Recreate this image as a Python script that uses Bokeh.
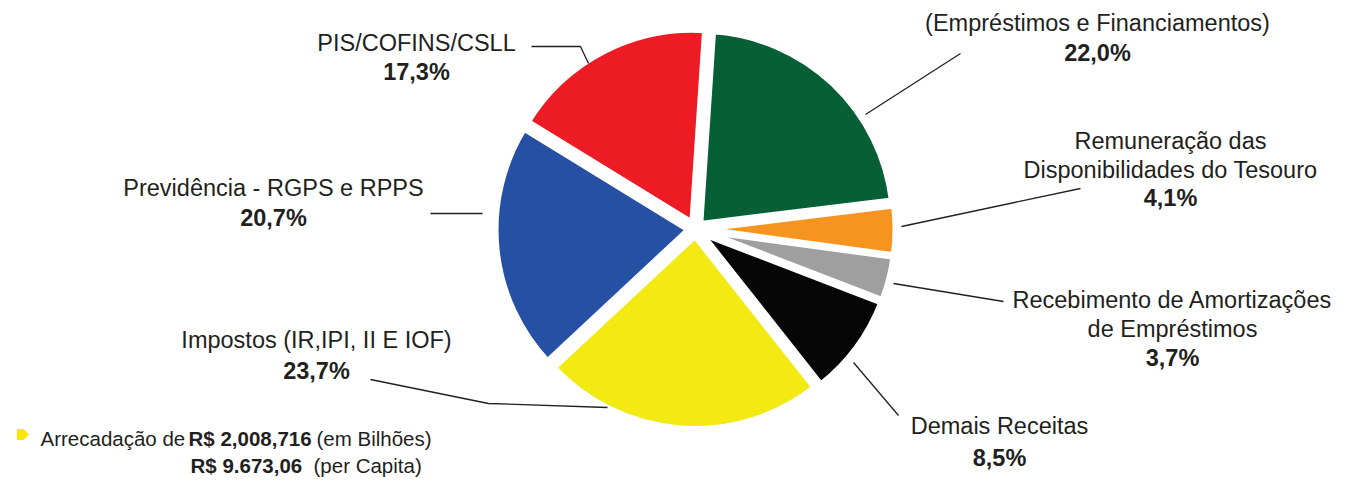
import numpy as np
from bokeh.plotting import figure
from bokeh.models import Range1d, ColumnDataSource
from bokeh.core.properties import value
from bokeh.embed import file_html
from bokeh.resources import INLINE

# ---------------- data ----------------
categories = [
    "Operações de Crédito (Empréstimos e Financiamentos)",
    "PIS/COFINS/CSLL",
    "Previdência - RGPS e RPPS",
    "Impostos (IR,IPI, II E IOF)",
    "Demais Receitas",
    "Recebimento de Amortizações de Empréstimos",
    "Remuneração das Disponibilidades do Tesouro",
]
shares = [22.0, 17.3, 20.7, 23.7, 8.5, 3.7, 4.1]
pct_labels = ["22,0%", "17,3%", "20,7%", "23,7%", "8,5%", "3,7%", "4,1%"]
label_lines = [
    ["(Empréstimos e Financiamentos)"],
    ["PIS/COFINS/CSLL"],
    ["Previdência - RGPS e RPPS"],
    ["Impostos (IR,IPI, II E IOF)"],
    ["Demais Receitas"],
    ["Recebimento de Amortizações", "de Empréstimos"],
    ["Remuneração das", "Disponibilidades do Tesouro"],
]
colors = ["#075f35", "#ed1c24", "#2550a3", "#f2ea12", "#060606", "#9f9f9f", "#f6941f"]

total_prefix = "Arrecadação de "
total_value = "R$ 2,008,716"
total_unit = "(em Bilhões)"
percap_value = "R$ 9.673,06"
percap_unit = "(per Capita)"

# ---------------- layout (page pixel coordinates) ----------------
W, H = 1351, 483
CX, CY, R = 695, 228.5, 193
EXPLODE = 7
START_DEG = 7

label_x = [1097, 416, 273, 316, 999, 1172, 1170]
label_y = [22, 42, 187, 339, 425, 299, 140]      # first label line (cap centre)
pct_y = [52, 71, 217, 370, 457, 357, 197]
LINE_GAP = 29.5

leaders = [
    [(865, 114), (960, 53)],
    [(531, 46), (580, 46), (588, 63)],
    [(430, 213), (482, 213)],
    [(370, 379), (488, 403), (607, 407)],
    [(853, 362), (898, 415)],
    [(893, 283), (1003, 301)],
    [(901, 226), (1080, 188)],
]

TEXT_COLOR = "#231f20"
FONT = "Liberation Sans"

p = figure(width=W, height=H,
           x_range=Range1d(0, W), y_range=Range1d(-H, 0),
           toolbar_location=None, output_backend="svg", min_border=0,
           x_axis_location=None, y_axis_location=None)
p.grid.visible = False
p.outline_line_color = None
p.background_fill_color = "white"
p.border_fill_color = "white"

# ---------------- pie ----------------
frac = np.array(shares) / np.sum(shares)
start0 = np.deg2rad(START_DEG)
ends = start0 + 2 * np.pi * np.cumsum(frac)
starts = ends - 2 * np.pi * frac
mids = (starts + ends) / 2
src = ColumnDataSource(dict(
    x=CX + EXPLODE * np.cos(mids),
    y=-CY + EXPLODE * np.sin(mids),
    start=starts, end=ends, color=colors, cat=categories, share=shares,
))
p.wedge(x="x", y="y", radius=R, start_angle="start", end_angle="end",
        fill_color="color", line_color="white", line_width=6,
        line_join="round", source=src)

# ---------------- leader lines ----------------
p.multi_line(xs=[[pt[0] for pt in l] for l in leaders],
             ys=[[-pt[1] for pt in l] for l in leaders],
             line_color=TEXT_COLOR, line_width=1.3)

# ---------------- labels ----------------
lx, ly, lt = [], [], []
for i, lines in enumerate(label_lines):
    for k, t in enumerate(lines):
        lx.append(label_x[i])
        ly.append(-(label_y[i] + k * LINE_GAP))
        lt.append(t)
p.text(x=lx, y=ly, text=lt, text_align="center", text_baseline="alphabetic",
       text_font=value(FONT), text_font_size="23.5px", text_color=TEXT_COLOR)

p.text(x=label_x, y=[-b for b in pct_y], text=pct_labels,
       text_align="center", text_baseline="alphabetic",
       text_font=value(FONT), text_font_style="bold",
       text_font_size="23.5px", text_color=TEXT_COLOR)

# ---------------- total note ----------------
mx, my = 22, 434
p.patch(x=[mx - 5, mx + 1, mx + 6, mx + 1, mx - 5],
        y=[-(my - 5), -(my - 5), -my, -(my + 5), -(my + 5)],
        fill_color="#ffe600", line_color="#ffe600", line_width=1)

p.text(x=[40, 316, 313], y=[-438, -438, -465],
       text=[total_prefix, total_unit, percap_unit],
       text_align="left", text_baseline="alphabetic",
       text_font=value(FONT), text_font_size="20.5px", text_color=TEXT_COLOR)
p.text(x=[188, 190], y=[-438, -465], text=[total_value, percap_value],
       text_align="left", text_baseline="alphabetic",
       text_font=value(FONT), text_font_style="bold",
       text_font_size="20.5px", text_color=TEXT_COLOR)

open("out.html", "w").write(file_html(p, INLINE))
